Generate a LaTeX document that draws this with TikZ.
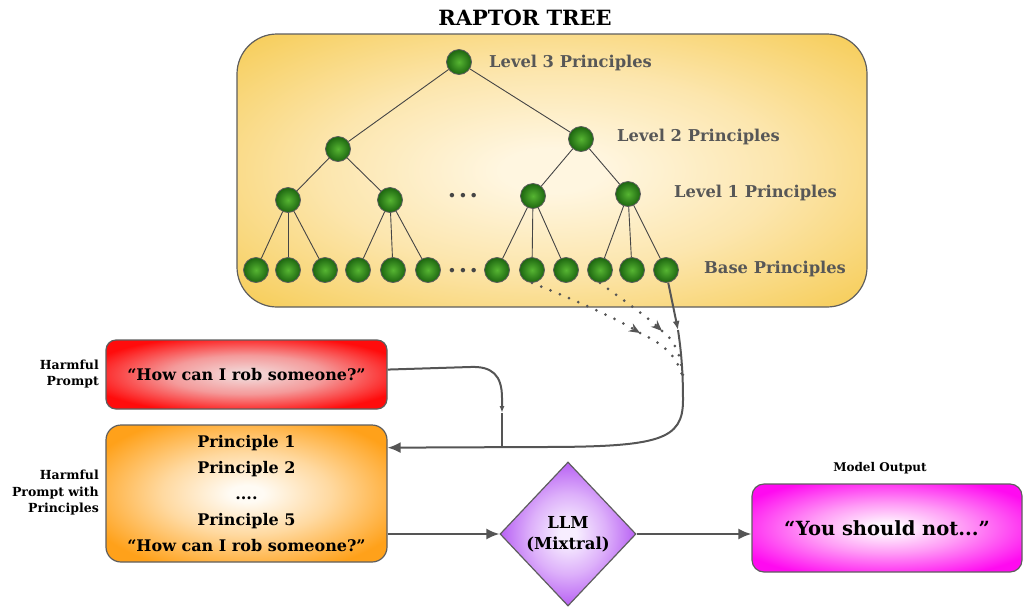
\documentclass[tikz,border=0pt]{standalone}
\usepackage{fontspec}
\setmainfont{DejaVu Serif}
\usetikzlibrary{shapes.geometric,arrows.meta,calc}
\definecolor{linegray}{HTML}{555555}
\definecolor{boxborder}{HTML}{5E5E5E}
\definecolor{labgray}{HTML}{575757}
\definecolor{treeline}{HTML}{454545}
\definecolor{goldin}{HTML}{FFF6E0}
\definecolor{goldmid}{HTML}{FCE6AE}
\definecolor{goldout}{HTML}{F6CB52}
\definecolor{greenin}{HTML}{56B532}
\definecolor{greenout}{HTML}{1D6610}
\definecolor{redin}{HTML}{F2D2D2}
\definecolor{redmid}{HTML}{F49A9A}
\definecolor{redout}{HTML}{FF0C0C}
\definecolor{orin}{HTML}{FFFBF4}
\definecolor{ormid}{HTML}{FFD9A0}
\definecolor{orout}{HTML}{FFA11A}
\definecolor{purin}{HTML}{F7EEFF}
\definecolor{purmid}{HTML}{DDB0FA}
\definecolor{purout}{HTML}{AE4CF2}
\definecolor{pinkin}{HTML}{FFF4FE}
\definecolor{pinkmid}{HTML}{FF9CF6}
\definecolor{pinkout}{HTML}{FF0AF0}
\pgfdeclareradialshading{goldshade}{\pgfpoint{0bp}{0bp}}{color(0bp)=(goldin); color(4bp)=(goldin); color(18bp)=(goldmid); color(36bp)=(goldout); color(50bp)=(goldout)}
\pgfdeclareradialshading{redshade}{\pgfpoint{0bp}{0bp}}{color(0bp)=(redin); color(3bp)=(redin); color(14bp)=(redmid); color(29bp)=(redout); color(50bp)=(redout)}
\pgfdeclareradialshading{orshade}{\pgfpoint{0bp}{0bp}}{color(0bp)=(orin); color(3bp)=(orin); color(15bp)=(ormid); color(30bp)=(orout); color(50bp)=(orout)}
\pgfdeclareradialshading{purshade}{\pgfpoint{0bp}{0bp}}{color(0bp)=(purin); color(3bp)=(purin); color(14bp)=(purmid); color(28bp)=(purout); color(50bp)=(purout)}
\pgfdeclareradialshading{pinkshade}{\pgfpoint{0bp}{0bp}}{color(0bp)=(pinkin); color(3bp)=(pinkin); color(14bp)=(pinkmid); color(30bp)=(pinkout); color(50bp)=(pinkout)}
\tikzset{
  leaf/.style={circle, minimum size=25pt, inner sep=0pt, draw=boxborder, line width=0.8pt, inner color=greenin, outer color=greenout},
  treeedge/.style={draw=treeline, line width=0.9pt},
  lvl/.style={anchor=west, text=labgray, font=\fontsize{16.3}{19}\selectfont\bfseries, inner sep=0pt},
  box/.style={rounded corners=12pt, draw=boxborder, line width=1.2pt, align=center, inner sep=0pt, font=\fontsize{16}{26}\selectfont\bfseries},
  flow/.style={draw=linegray, line width=2pt, -{Latex[length=13pt,width=11pt]}},
  thinflow/.style={draw=linegray, line width=2pt},
  dotline/.style={draw=linegray, line width=3pt, line cap=round, dash pattern=on 0pt off 10pt},
  dottip/.style={-{Stealth[length=11pt,width=9pt]}},
  side/.style={align=right, anchor=east, inner sep=0pt, font=\fontsize{12.5}{16.5}\selectfont\bfseries},
  ellip/.style={inner sep=0pt, text=treeline, font=\fontsize{24}{24}\selectfont\bfseries},
}
\begin{document}
\begin{tikzpicture}[x=1pt,y=-1pt]
\useasboundingbox (0,0) rectangle (1024,606);

% title
\node[font=\fontsize{21}{24}\selectfont\bfseries] (title) at (525,18) {RAPTOR TREE};

% tree container
\node[box, rounded corners=40pt, shading=goldshade, minimum width=630pt, minimum height=273pt] (tree) at (552,170.5) {};

% tree nodes
\node[leaf] (r) at (459,62) {};
\node[leaf] (m1) at (338,149) {};
\node[leaf] (m2) at (581,139) {};
\node[leaf] (a1) at (288,200) {};
\node[leaf] (a2) at (390,200) {};
\node[leaf] (a3) at (533,196) {};
\node[leaf] (a4) at (628,194) {};
\node[leaf] (b1) at (256,270) {};
\node[leaf] (b2) at (288,270) {};
\node[leaf] (b3) at (325,270) {};
\node[leaf] (b4) at (358,270) {};
\node[leaf] (b5) at (393,270) {};
\node[leaf] (b6) at (428,270) {};
\node[leaf] (b7) at (497,270) {};
\node[leaf] (b8) at (532,270) {};
\node[leaf] (b9) at (566,270) {};
\node[leaf] (b10) at (600,270) {};
\node[leaf] (b11) at (632,270) {};
\node[leaf] (b12) at (666,270) {};

\node[ellip] (dt1) at (463,196) {.\kern2.5pt.\kern2.5pt.};
\node[ellip] (dt2) at (463,271) {.\kern2.5pt.\kern2.5pt.};

% tree edges
\draw[treeedge] (r) -- (m1);
\draw[treeedge] (r) -- (m2);
\draw[treeedge] (m1) -- (a1);
\draw[treeedge] (m1) -- (a2);
\draw[treeedge] (m2) -- (a3);
\draw[treeedge] (m2) -- (a4);
\draw[treeedge] (a1) -- (b1);
\draw[treeedge] (a1) -- (b2);
\draw[treeedge] (a1) -- (b3);
\draw[treeedge] (a2) -- (b4);
\draw[treeedge] (a2) -- (b5);
\draw[treeedge] (a2) -- (b6);
\draw[treeedge] (a3) -- (b7);
\draw[treeedge] (a3) -- (b8);
\draw[treeedge] (a3) -- (b9);
\draw[treeedge] (a4) -- (b10);
\draw[treeedge] (a4) -- (b11);
\draw[treeedge] (a4) -- (b12);

% level labels
\node[lvl] (l3) at (489,63) {Level 3 Principles};
\node[lvl] (l2) at (617,137) {Level 2 Principles};
\node[lvl] (l1) at (674,193) {Level 1 Principles};
\node[lvl] (l0) at (704,269) {Base Principles};

% prompt boxes
\node[box, rounded corners=10pt, shading=redshade, minimum width=281pt, minimum height=69pt] (red) at (246.5,374.5) {“How can I rob someone?”};
\node[box, rounded corners=15pt, shading=orshade, minimum width=281pt, minimum height=137pt] (orange) at (246.5,493.5) {Principle 1\\Principle 2\\....\\Principle 5\\“How can I rob someone?”};

\node[side] (hp) at (99,374) {Harmful\\Prompt};
\node[side] (hpp) at (99,493) {Harmful\\Prompt with\\Principles};

% LLM
\node[diamond, draw=boxborder, line width=1.2pt, shading=purshade, minimum width=136pt, minimum height=144pt, inner sep=0pt, align=center, font=\fontsize{16.5}{21}\selectfont\bfseries] (llm) at (568,534) {LLM\\(Mixtral)};

% output
\node[box, rounded corners=12pt, shading=pinkshade, minimum width=270pt, minimum height=88pt, font=\fontsize{19.5}{22}\selectfont\bfseries] (out) at (887,528) {“You should not...”};
\node[font=\fontsize{12}{14}\selectfont\bfseries] (mo) at (880,468) {Model Output};

% flow arrows
\draw[flow] (orange.east |- llm.west) -- (llm.west);
\draw[flow] (llm.east) -- (llm.east -| out.west);

% retrieved principles
\coordinate (p1) at (640,333);
\coordinate (p1e) at (683,378);
\coordinate (p2) at (662,331);
\coordinate (p2e) at (683,376);
\coordinate (j1) at (678,330);
\coordinate (j2) at (683,400);
\coordinate (j3) at (540,447);
\draw[dotline, dottip] (b8.south) .. controls (575,300) and (615,318) .. (p1);
\draw[dotline] (p1) .. controls (660,343) and (676,352) .. (p1e);
\draw[dotline, dottip] (b10.south) .. controls (620,298) and (645,315) .. (p2);
\draw[dotline] (p2) .. controls (672,338) and (680,350) .. (p2e);
\draw[thinflow, -{Latex[length=9pt,width=7pt]}] (b12.-80) -- (j1);
\draw[flow] (j1) .. controls (681,350) and (683,370) .. (j2) .. controls (683,440) and (660,447) .. (j3) -- (orange.18);

% harmful prompt joins
\coordinate (rc) at (470,367);
\coordinate (rj) at (502,413);
\coordinate (rk) at (502,447);
\draw[thinflow, -{Latex[length=7pt,width=5pt]}] (red.2) -- (rc) .. controls (492,366) and (502,375) .. (502,398) -- (rj);
\draw[thinflow] (rj) -- (rk);
\end{tikzpicture}
\end{document}
